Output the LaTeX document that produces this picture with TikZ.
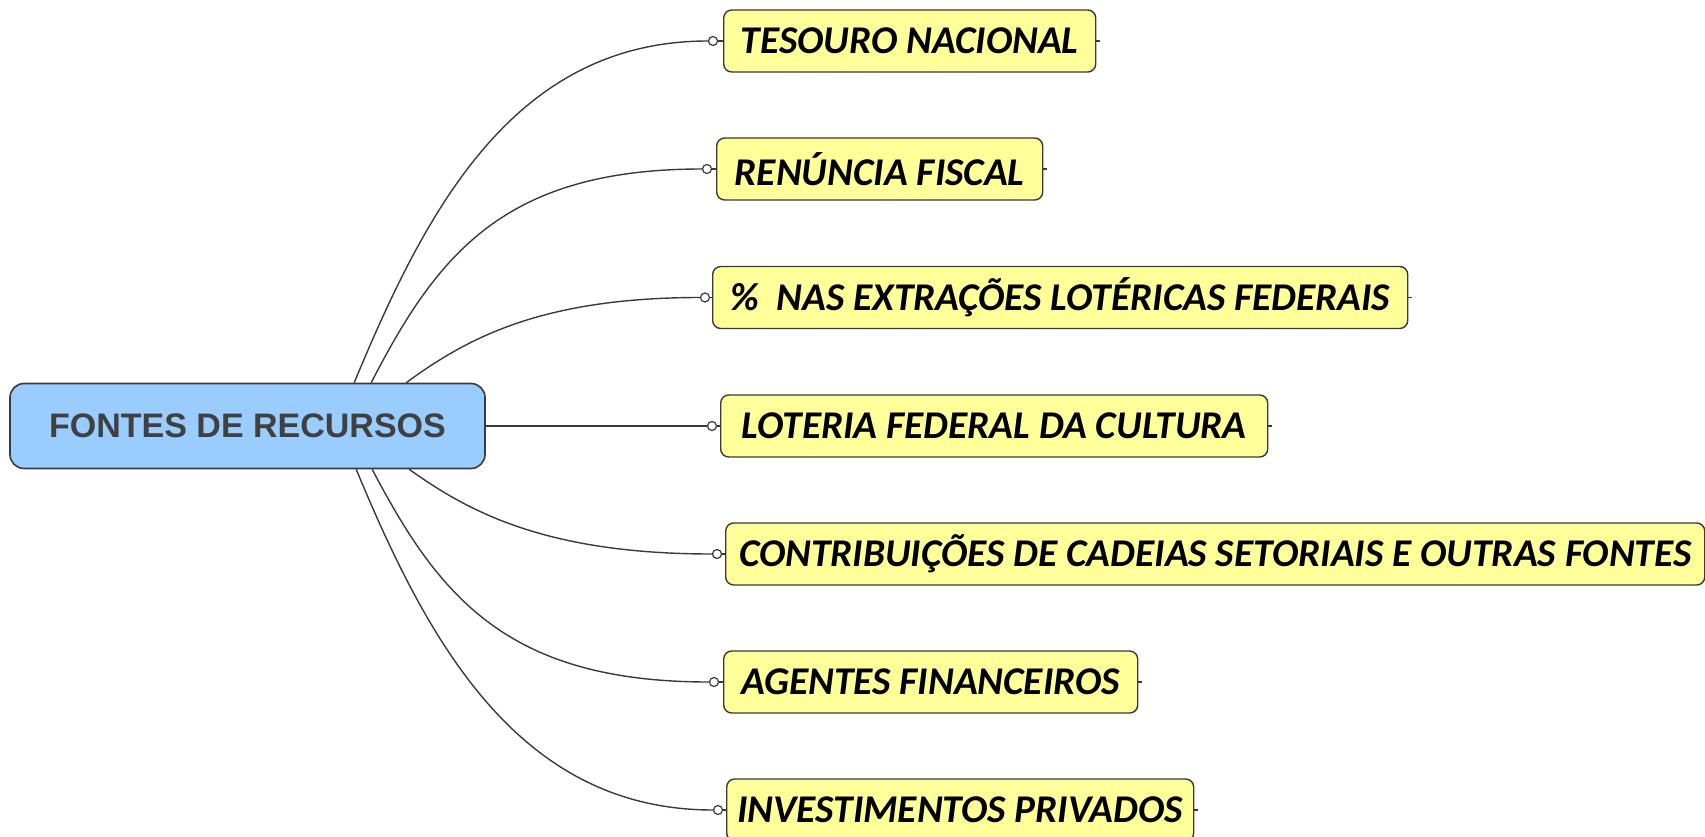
\documentclass[tikz,border=0pt]{standalone}
\usepackage{fontspec}
\setmainfont{Carlito}
\newfontfamily\rootfont{Liberation Sans}
\definecolor{leafyellow}{HTML}{FFFF99}
\definecolor{rootblue}{HTML}{99CCFF}
\definecolor{linec}{HTML}{3A3A3A}
\definecolor{roottext}{HTML}{404040}
\begin{document}
\begin{tikzpicture}[x=1pt,y=-1pt,
  leaf/.style={draw=linec, line width=1.4pt, fill=leafyellow, rounded corners=8pt,
    minimum height=62pt, inner sep=0pt, anchor=west,
    font=\fontsize{39.3}{45}\selectfont\bfseries\itshape, text=black},
  rootbox/.style={draw=linec, line width=1.6pt, fill=rootblue, rounded corners=14pt,
    minimum width=475pt, minimum height=85pt, inner sep=0pt,
    font=\rootfont\fontsize{34}{40}\selectfont\bfseries, text=roottext},
  knob/.style={circle, draw=linec, fill=white, line width=1.2pt, minimum size=9pt, inner sep=0pt},
  branch/.style={draw=linec, line width=1.4pt}]
\useasboundingbox (0,0) rectangle (1705,837);

\node[rootbox] (root) at (247.5,426) {FONTES DE RECURSOS};

\node[leaf, minimum width=372pt] (t1) at (723,41) {TESOURO NACIONAL};
\node[leaf, minimum width=326pt] (t2) at (716,169) {RENÚNCIA FISCAL};
\node[leaf, minimum width=695pt] (t3) at (712,297.5) {\%\ \ NAS EXTRAÇÕES LOTÉRICAS FEDERAIS};
\node[leaf, minimum width=547pt] (t4) at (720,426) {LOTERIA FEDERAL DA CULTURA};
\node[leaf, minimum width=979pt] (t5) at (725,554) {CONTRIBUIÇÕES DE CADEIAS SETORIAIS E OUTRAS FONTES};
\node[leaf, minimum width=414pt] (t6) at (723,682) {AGENTES FINANCEIROS};
\node[leaf, minimum width=467pt] (t7) at (726,810) {INVESTIMENTOS PRIVADOS};

\node[knob] (c1) at (713,41) {};
\node[knob] (c2) at (707,169) {};
\node[knob] (c3) at (705,297.5) {};
\node[knob] (c4) at (712,426) {};
\node[knob] (c5) at (717,554) {};
\node[knob] (c6) at (714,682) {};
\node[knob] (c7) at (718,810) {};

\foreach \i in {1,...,7}{
  \draw[branch] (c\i) -- (t\i.west);
  \draw[branch] (t\i.east) -- ++(4,0);
}

\coordinate (s1) at ([xshift=345pt]root.north west);
\coordinate (s2) at ([xshift=362pt]root.north west);
\coordinate (s3) at ([xshift=397pt]root.north west);
\coordinate (s5) at ([xshift=400pt]root.south west);
\coordinate (s6) at ([xshift=363pt]root.south west);
\coordinate (s7) at ([xshift=347pt]root.south west);

\draw[branch] (s1) .. controls +(71,-171) and +(-195,0) .. (c1.west);
\draw[branch] (s2) .. controls +(66,-128) and +(-198,0) .. (c2.west);
\draw[branch] (s3) .. controls +(59,-43) and +(-161,0) .. (c3.west);
\draw[branch] (root.east) -- (c4.west);
\draw[branch] (s5) .. controls +(60,43) and +(-165,0) .. (c5.west);
\draw[branch] (s6) .. controls +(67,128) and +(-201,0) .. (c6.west);
\draw[branch] (s7) .. controls +(71,171) and +(-195,0) .. (c7.west);
\end{tikzpicture}
\end{document}
